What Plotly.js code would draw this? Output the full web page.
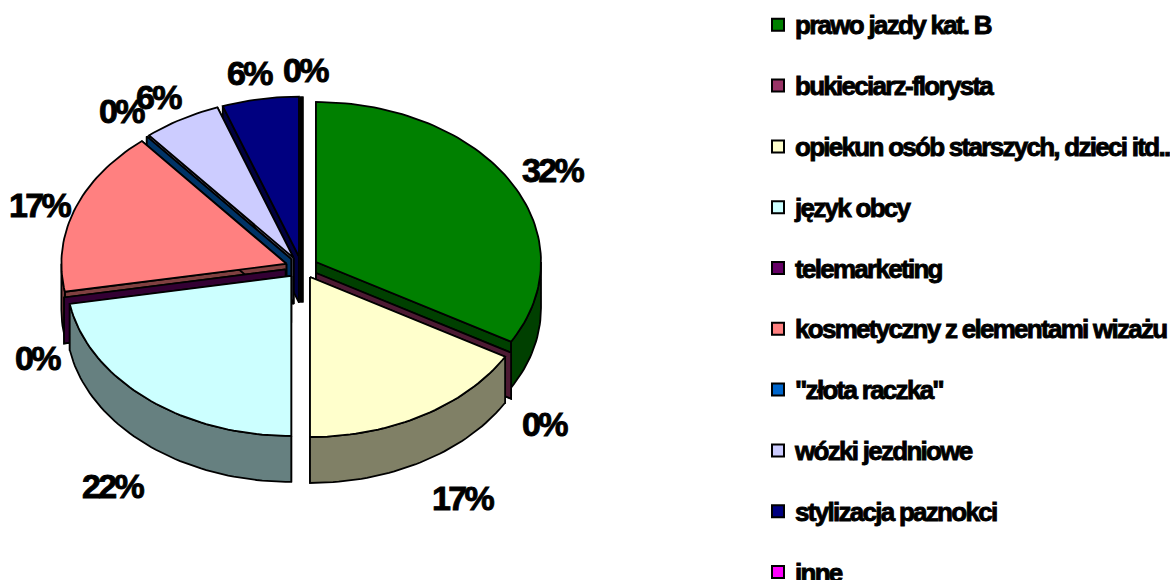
<!DOCTYPE html>
<html><head><meta charset="utf-8">
<script src="https://cdn.plot.ly/plotly-3.0.1.min.js"></script>
<style>
html,body{margin:0;padding:0;background:#fff;overflow:hidden}
#chart{width:1170px;height:580px}
.legendtext{font-size:26px!important;letter-spacing:-1.72px;stroke:#000;stroke-width:.9px;transform:translate(-3px,1px)}
.annotation-text{letter-spacing:-2.7px;stroke:#000;stroke-width:.9px}
</style></head><body><div id="chart"></div>
<script>
const categories=['prawo jazdy kat. B','bukieciarz-florysta','opiekun osób starszych, dzieci itd..','język obcy','telemarketing','kosmetyczny z elementami wizażu','"złota raczka"','wózki jezdniowe','stylizacja paznokci','inne'];
const shares=[33.3,0,16.7,22.2,0,16.7,0,5.6,5.5,0];
const printedLabels=['32%','0%','17%','22%','0%','17%','0%','6%','6%','0%'];
const topColors=['#008000','#993366','#FFFFCC','#CCFFFF','#660066','#FF8080','#0066CC','#CCCCFF','#000080','#FF00FF'];
const sideColors=['#004000','#4D1A33','#808066','#668080','#330033','#804040','#003366','#666680','#000040','#800080'];
const labelX=[553,545,463,113,38,40,122,159,250,306];
const labelY=[170,424,498,486,358,205,111,97,73,70];
const paintOrder=[9,8,7,6,5,4,0,1,3,2];
const pie={cx:301.8,cy:267.5,a:225,b:160,depth:46,ex:16.4,ey:11};
const rad=d=>d*Math.PI/180, total=shares.reduce((s,v)=>s+v,0);
let cum=0;
const slices=shares.map(v=>{const s={start:cum/total*360,end:(cum+v)/total*360};cum+=v;return s;});
function rimPts(ap,t0,t1,dz){const n=Math.max(1,Math.ceil((t1-t0)/1.5)),xs=[],ys=[];
  for(let i=0;i<=n;i++){const t=rad(t0+(t1-t0)*i/n);xs.push(ap.x+pie.a*Math.sin(t));ys.push(ap.y-pie.b*Math.cos(t)+dz);}
  return {xs,ys};}
const poly=(x,y,fill,w)=>({type:'scatter',mode:'lines',x,y,fill:'toself',fillcolor:fill,
  line:{color:'#000',width:w||1.8,shape:'linear'},hoverinfo:'skip',showlegend:false});
const traces=[];
paintOrder.forEach(i=>{
  const s=slices[i],mid=rad((s.start+s.end)/2);
  const ap={x:pie.cx+pie.ex*Math.sin(mid),y:pie.cy-pie.ey*Math.cos(mid)};
  const edge=i===9?3.5:1.8;
  [s.start,s.end].forEach(t=>{const r=rimPts(ap,t,t,0);
    traces.push(poly([ap.x,r.xs[0],r.xs[0],ap.x,ap.x],[ap.y,r.ys[0],r.ys[0]+pie.depth,ap.y+pie.depth,ap.y],sideColors[i],edge));});
  const w0=Math.max(s.start,90),w1=Math.min(s.end,270);
  if(w1>w0){const u=rimPts(ap,w0,w1,0),d=rimPts(ap,w0,w1,pie.depth);
    traces.push(poly(u.xs.concat(d.xs.slice().reverse(),[u.xs[0]]),u.ys.concat(d.ys.slice().reverse(),[u.ys[0]]),sideColors[i]));}
  if(s.end>s.start){const r=rimPts(ap,s.start,s.end,0);
    traces.push(poly([ap.x].concat(r.xs,[ap.x]),[ap.y].concat(r.ys,[ap.y]),topColors[i]));}
});
categories.forEach((c,i)=>traces.push({type:'scatter',mode:'markers',x:[null],y:[null],name:c,legendgroup:'g'+i,
  marker:{symbol:'square',size:12,color:topColors[i],line:{color:'#000',width:2}},hoverinfo:'skip'}));
const layout={width:1170,height:580,margin:{l:0,r:0,t:0,b:0,pad:0,autoexpand:false},
  paper_bgcolor:'#fff',plot_bgcolor:'#fff',
  xaxis:{range:[0,1170],visible:false,fixedrange:true},
  yaxis:{range:[580,0],visible:false,fixedrange:true},
  legend:{x:758/1170,xanchor:'left',y:1-4/580,yanchor:'top',bgcolor:'rgba(0,0,0,0)',borderwidth:0,
    tracegroupgap:29.2,itemclick:false,itemdoubleclick:false,traceorder:'grouped',
    font:{family:'"Liberation Sans",Arial,sans-serif',size:22,color:'#000',weight:700}},
  annotations:printedLabels.map((t,i)=>({x:labelX[i],y:labelY[i],xref:'x',yref:'y',text:t,showarrow:false,
    xanchor:'center',yanchor:'middle',font:{family:'"Liberation Sans",Arial,sans-serif',size:34,color:'#000',weight:700}}))
};
Plotly.newPlot('chart',traces,layout,{staticPlot:true,displayModeBar:false});
</script></body></html>
